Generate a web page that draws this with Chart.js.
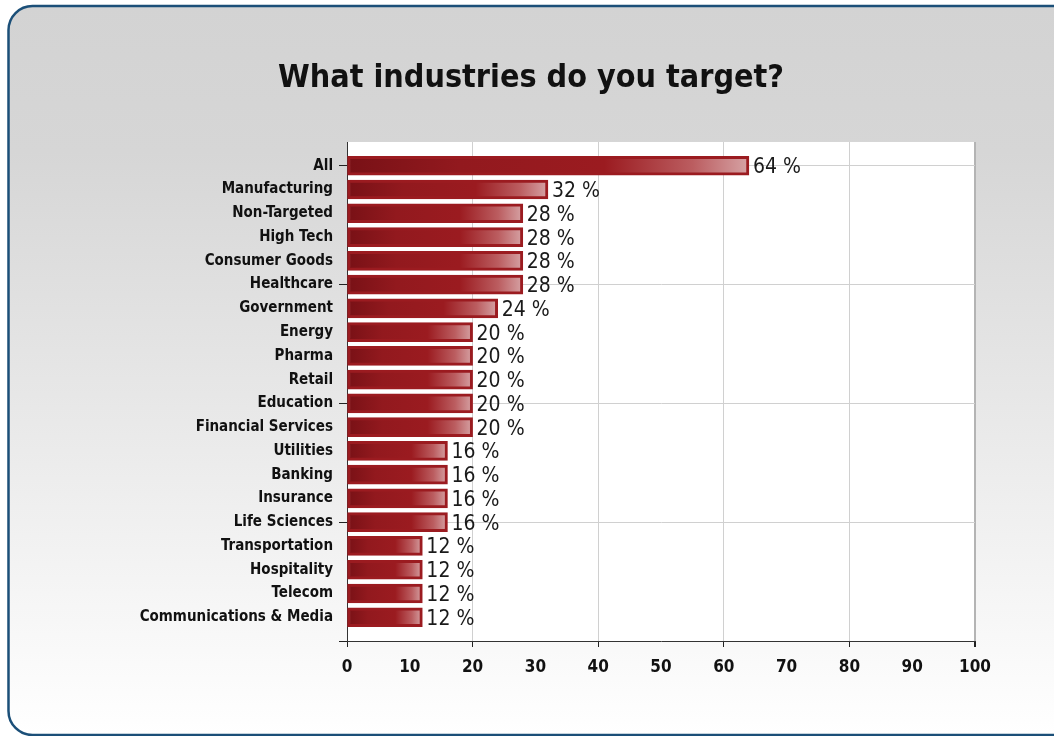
<!DOCTYPE html>
<html>
<head>
<meta charset="utf-8">
<script src="https://cdn.jsdelivr.net/npm/chart.js@4.4.0/dist/chart.umd.min.js"></script>
<style>
html,body{margin:0;padding:0;background:#fff;}
#c{display:block;}
</style>
</head>
<body>
<canvas id="c" width="1054" height="736"></canvas>
<script>
const titleText = "What industries do you target?";
const categories = ["All","Manufacturing","Non-Targeted","High Tech","Consumer Goods","Healthcare","Government","Energy","Pharma","Retail","Education","Financial Services","Utilities","Banking","Insurance","Life Sciences","Transportation","Hospitality","Telecom","Communications & Media"];
const values = [64,32,28,28,28,28,24,20,20,20,20,20,16,16,16,16,12,12,12,12];
const xTickValues = [0,10,20,30,40,50,60,70,80,90,100];

const FONT = "'DejaVu Sans Condensed', 'DejaVu Sans', sans-serif";

const bgPlugin = {
  id: 'bgbox',
  beforeDraw(chart) {
    const ctx = chart.ctx;
    ctx.save();
    ctx.fillStyle = '#ffffff';
    ctx.fillRect(0, 0, chart.width, chart.height);
    const x = 8.5, y = 6, w = 1070, h = 729, r = 24;
    const g = ctx.createLinearGradient(0, y, 0, y + h);
    g.addColorStop(0, '#d3d3d3');
    g.addColorStop(0.2, '#d6d6d6');
    g.addColorStop(1, '#ffffff');
    ctx.beginPath();
    ctx.moveTo(x + r, y);
    ctx.lineTo(x + w - r, y);
    ctx.arcTo(x + w, y, x + w, y + r, r);
    ctx.lineTo(x + w, y + h - r);
    ctx.arcTo(x + w, y + h, x + w - r, y + h, r);
    ctx.lineTo(x + r, y + h);
    ctx.arcTo(x, y + h, x, y + h - r, r);
    ctx.lineTo(x, y + r);
    ctx.arcTo(x, y, x + r, y, r);
    ctx.closePath();
    ctx.fillStyle = g;
    ctx.fill();
    ctx.lineWidth = 2.5;
    ctx.strokeStyle = '#1b4f78';
    ctx.stroke();
    // plot background
    const a = chart.chartArea;
    ctx.fillStyle = '#ffffff';
    ctx.fillRect(a.left, a.top, a.right - a.left, a.bottom - a.top);
    // title
    ctx.font = "bold 32px " + FONT;
    ctx.fillStyle = '#111111';
    ctx.textAlign = 'center';
    ctx.textBaseline = 'alphabetic';
    ctx.fillText(titleText, 531, 87);
    ctx.restore();
  }
};

const labelPlugin = {
  id: 'vlabels',
  afterDatasetsDraw(chart) {
    const ctx = chart.ctx;
    const meta = chart.getDatasetMeta(0);
    ctx.save();
    ctx.font = "21px " + FONT;
    ctx.fillStyle = '#1a1a1a';
    ctx.textAlign = 'left';
    ctx.textBaseline = 'middle';
    meta.data.forEach((bar, i) => {
      ctx.fillText(values[i] + ' %', bar.x + 4, bar.y + 2);
    });
    ctx.restore();
  }
};

function barGradient(c) {
  const ch = c.chart;
  const xs = ch.scales && ch.scales.x;
  if (!xs || !c.raw || xs.width === undefined) return '#9b1b20';
  const x0 = xs.getPixelForValue(0);
  const x1 = xs.getPixelForValue(c.raw.x);
  if (!isFinite(x0) || !isFinite(x1) || x1 <= x0) return '#9b1b20';
  const g = ch.ctx.createLinearGradient(x0, 0, x1, 0);
  g.addColorStop(0, '#781116');
  g.addColorStop(0.28, '#92191e');
  g.addColorStop(0.64, '#9b1b20');
  g.addColorStop(0.86, '#bb5d60');
  g.addColorStop(1, '#d6a3a5');
  return g;
}

new Chart(document.getElementById('c'), {
  type: 'bar',
  data: {
    datasets: [{
      data: values.map((v, i) => ({ x: v, y: i })),
      backgroundColor: barGradient,
      borderColor: '#9b1b20',
      borderWidth: 3,
      borderSkipped: false,
      barThickness: 19
    }]
  },
  plugins: [bgPlugin, labelPlugin],
  options: {
    responsive: false,
    animation: false,
    devicePixelRatio: 1,
    indexAxis: 'y',
    layout: { padding: { left: 0, right: 79, top: 142, bottom: 0 } },
    plugins: {
      legend: { display: false },
      tooltip: { enabled: false },
      title: { display: false }
    },
    scales: {
      x: {
        type: 'linear',
        min: 0,
        max: 100,
        offset: false,
        afterBuildTicks: (axis) => { axis.ticks = xTickValues.map(v => ({ value: v })); },
        afterFit: (scale) => { scale.height = 95; },
        grid: {
          offset: false,
          color: (c) => (c.tick && c.tick.value % 20 === 0) ? (c.tick.value === 100 ? '#b4b4b4' : '#d0d0d0') : 'rgba(0,0,0,0)',
          lineWidth: (c) => (c.tick && c.tick.value === 100) ? 2 : 1,
          tickColor: (c) => (c.tick && c.tick.value % 20 === 0) ? '#222222' : 'rgba(0,0,0,0)',
          tickLength: 6,
          drawTicks: true
        },
        border: { display: true, color: '#333333', width: 1 },
        ticks: {
          color: '#111111',
          font: { family: FONT, size: 17, weight: 'bold' },
          padding: 10,
          maxRotation: 0,
          autoSkip: false
        }
      },
      y: {
        type: 'linear',
        reverse: true,
        min: -1,
        max: 20,
        offset: false,
        afterBuildTicks: (axis) => {
          const t = [];
          for (let i = 0; i <= 20; i++) t.push({ value: i });
          axis.ticks = t;
        },
        afterFit: (scale) => { scale.width = 347; },
        grid: {
          offset: false,
          color: (c) => (c.tick && c.tick.value % 5 === 0 && c.tick.value < 20) ? '#d0d0d0' : 'rgba(0,0,0,0)',
          tickColor: (c) => (c.tick && c.tick.value % 5 === 0) ? '#222222' : 'rgba(0,0,0,0)',
          tickLength: 8,
          drawTicks: true
        },
        border: { display: true, color: '#333333', width: 1 },
        ticks: {
          color: '#111111',
          font: { family: FONT, size: 15, weight: 'bold' },
          padding: 6,
          autoSkip: false,
          callback: (v) => (Number.isInteger(v) && v >= 0 && v < categories.length) ? categories[v] : ''
        }
      }
    }
  }
});
</script>
</body>
</html>
